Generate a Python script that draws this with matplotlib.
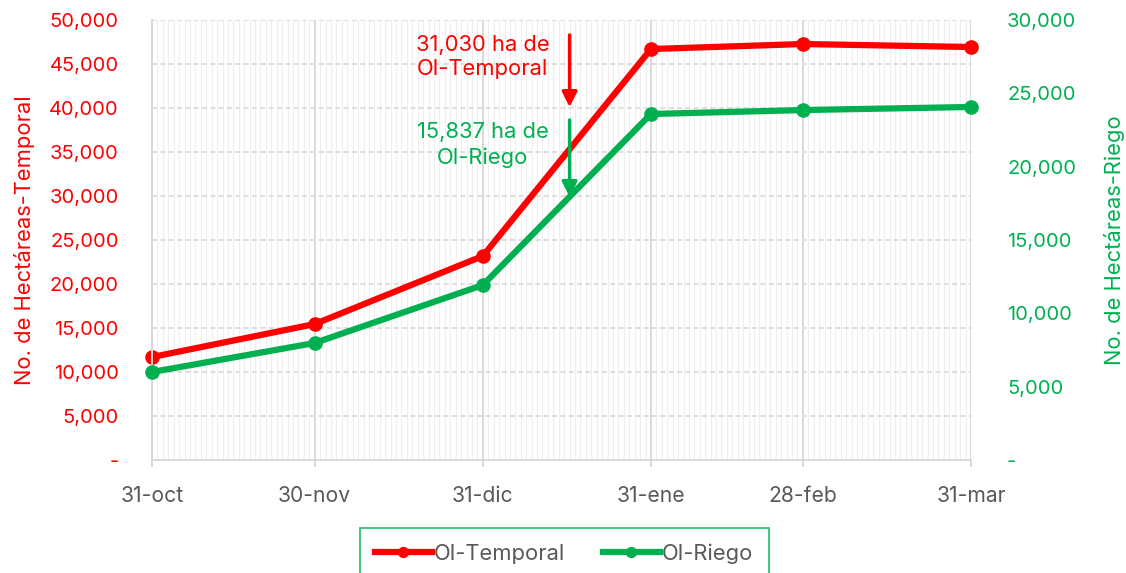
"""Hectáreas sembradas OI-Temporal vs OI-Riego, two y axes."""

import matplotlib
matplotlib.use("Agg")
import matplotlib.dates as mdates
import matplotlib.pyplot as plt
import pandas as pd
from matplotlib.ticker import FuncFormatter, MultipleLocator

DATES = ["2022-10-31", "2022-11-30", "2022-12-31", "2023-01-31", "2023-02-28", "2023-03-31"]
DATE_LABELS = ["31-oct", "30-nov", "31-dic", "31-ene", "28-feb", "31-mar"]
TEMPORAL = [11700, 15450, 23180, 46700, 47270, 46930]
RIEGO = [6000, 7980, 11930, 23590, 23860, 24070]

NOTE_DATE = "2023-01-16"
NOTE_TEMPORAL = "31,030 ha de\nOI-Temporal"
NOTE_RIEGO = "15,837 ha de\nOI-Riego"

RED = "#ff0000"
GREEN = "#00b050"
GREY_TEXT = "#595959"
GRID = "#d9d9d9"

plt.rcParams["font.family"] = ["Inter", "DejaVu Sans"]
FS = 14.5      # y tick labels
FS_TXT = 15.8  # words


def thousands(v, _pos):
    return "-" if abs(v) < 1e-9 else f"{v:,.0f}"


def main():
    dates = pd.to_datetime(DATES)
    note_x = pd.Timestamp(NOTE_DATE)

    fig = plt.figure(figsize=(11.26, 5.73), dpi=100)
    ax = fig.add_axes([0.135, 0.1972, 0.7273, 0.7679])
    ax2 = ax.twinx()

    # daily minor grid, monthly major grid
    ax.set_xlim(dates[0], dates[-1])
    ax.set_xticks(dates)
    ax.set_xticklabels(DATE_LABELS)
    ax.xaxis.set_minor_locator(mdates.DayLocator())
    ax.grid(axis="x", which="minor", color="#efefef", linewidth=0.8)
    ax.grid(axis="x", which="major", color=GRID, linewidth=1.4)
    ax.grid(axis="y", which="major", color=GRID, linewidth=1.2, linestyle=(0, (3, 2)))
    ax.set_axisbelow(True)

    ax.set_ylim(0, 50000)
    ax.yaxis.set_major_locator(MultipleLocator(5000))
    ax.yaxis.set_major_formatter(FuncFormatter(thousands))
    ax2.set_ylim(0, 30000)
    ax2.yaxis.set_major_locator(MultipleLocator(5000))
    ax2.yaxis.set_major_formatter(FuncFormatter(thousands))

    for a in (ax, ax2):
        a.spines["top"].set_visible(False)
        a.spines["right"].set_visible(False)
        a.spines["left"].set_color(GRID)
        a.spines["bottom"].set_color(GRID)
        a.spines["left"].set_linewidth(1.4)
        a.spines["bottom"].set_linewidth(1.4)

    ax.tick_params(axis="x", which="major", length=5, width=1.4, color=GRID,
                   pad=14, labelsize=FS_TXT - 0.6, labelcolor=GREY_TEXT)
    ax.tick_params(axis="x", which="minor", length=0)
    ax.tick_params(axis="y", length=0, pad=24, labelsize=FS, labelcolor=RED)
    ax2.tick_params(axis="y", length=0, pad=26, labelsize=FS, labelcolor=GREEN)

    ax.set_ylabel("No. de Hectáreas-Temporal", color=RED, fontsize=FS_TXT, labelpad=10)
    ax2.set_ylabel("No. de Hectáreas-Riego", color=GREEN, fontsize=FS_TXT, labelpad=20)

    l1, = ax.plot(dates, TEMPORAL, color=RED, linewidth=4.5, marker="o",
                  markersize=9.5, label="OI-Temporal", clip_on=False, zorder=3)
    l2, = ax2.plot(dates, RIEGO, color=GREEN, linewidth=4.5, marker="o",
                   markersize=9.5, label="OI-Riego", clip_on=False, zorder=3)

    arrow_kw = dict(arrowstyle="-|>,head_length=0.9,head_width=0.45", linewidth=2.5,
                    shrinkA=0, shrinkB=0)
    ax.annotate("", xy=(note_x, 40100), xytext=(note_x, 48300),
                arrowprops=dict(color=RED, **arrow_kw))
    ax2.annotate("", xy=(note_x, 17930), xytext=(note_x, 23180),
                 arrowprops=dict(color=GREEN, **arrow_kw), zorder=4)

    ax.text(dates[2], 45800, NOTE_TEMPORAL, color=RED, fontsize=FS_TXT,
            ha="center", va="center", linespacing=1.3)
    ax.text(dates[2], 35800, NOTE_RIEGO, color=GREEN, fontsize=FS_TXT,
            ha="center", va="center", linespacing=1.3)

    leg = fig.legend(handles=[l1, l2], loc="upper center", bbox_to_anchor=(0.501, 0.079),
                     ncol=2, frameon=True, fancybox=False, fontsize=FS_TXT,
                     handlelength=2.6, handletextpad=0.1, columnspacing=1.7,
                     borderpad=0.7, borderaxespad=0, markerscale=0.75)
    leg.get_frame().set_edgecolor(GREEN)
    leg.get_frame().set_linewidth(1.3)
    for t in leg.get_texts():
        t.set_color(GREY_TEXT)

    fig.savefig("out.png", dpi=100)


if __name__ == "__main__":
    main()
